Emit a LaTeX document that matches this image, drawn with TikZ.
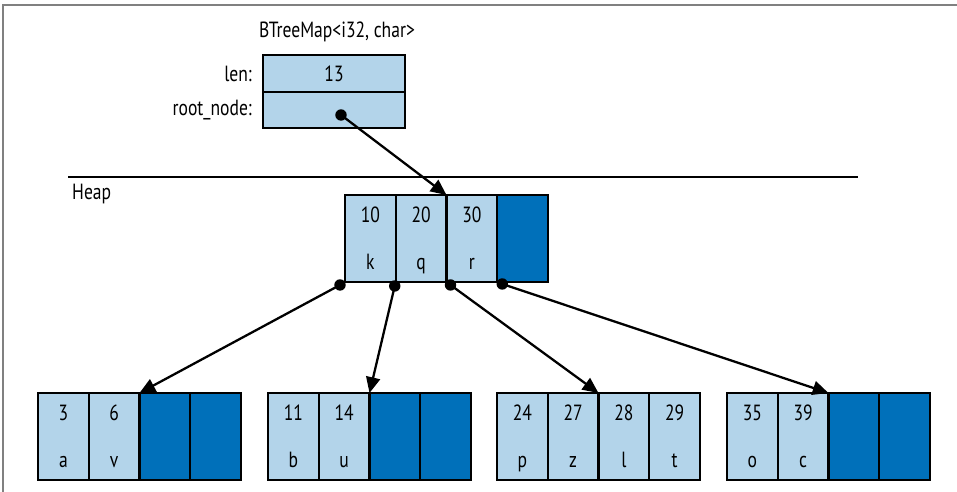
\documentclass[tikz,border=0pt]{standalone}
\usepackage{fontspec}
\setmainfont{PT Sans}[FakeStretch=0.8]
\usetikzlibrary{calc,arrows.meta}
\definecolor{keyblue}{HTML}{B3D4EA}
\definecolor{freeblue}{HTML}{0070BA}
\definecolor{framegray}{HTML}{808080}
\tikzset{
  cell/.style={draw=black, line width=1.2pt, fill=keyblue, minimum width=1.015cm,
    minimum height=1.74cm, inner sep=0pt, outer sep=0pt},
  field/.style={draw=black, line width=1.2pt, fill=keyblue, minimum width=2.84cm,
    minimum height=0.73cm, inner sep=0pt, outer sep=0pt},
  key/.style={anchor=base, inner sep=0pt},
  ptr/.style={line width=1.3pt, -{Triangle[length=9pt,width=8pt]}},
  dot/.style={circle, fill=black, inner sep=0pt, minimum size=6.5pt},
}
\begin{document}
\begin{tikzpicture}[x=0.02cm, y=-0.02cm, font=\fontsize{12.5}{14}\selectfont]
    \useasboundingbox (0,0) rectangle (957,492);
    \draw[framegray, line width=1.1pt] (3,492) -- (3,5) -- (957,5);

    % the map itself
    \node (title) at (337,32) {BTreeMap<i32, char>};
    \node[field] (len) at (334,73.5) {13};
    \node[field] (root) at (334,110) {};
    \node[anchor=east] (lenlab) at ($(len.west)+(-5,0)$) {len:};
    \node[anchor=east] (rootlab) at ($(root.west)+(-5,0)$) {root\_node:};
    \node[dot] (rootptr) at (341,115) {};

    % heap
    \draw[line width=1.2pt] (68,177) -- (858,177);
    \node[anchor=west] (heap) at (66,194) {Heap};

    \foreach \j in {1,...,4}{
      \ifnum\j>3 \def\col{freeblue}\else\def\col{keyblue}\fi
      \node[cell, fill=\col] (r\j) at ({345+50.75*(\j-0.5)},238.5) {};
    }
    \foreach \j/\k/\v in {1/10/k,2/20/q,3/30/r}{
      \node[key] (r\j-k) at ($(r\j.north)+(0,27)$) {\k};
      \node[key] (r\j-v) at ($(r\j.south)+(0,-12)$) {\v};
    }

    % leaves
    \foreach \leaf/\x/\n in {a/38/2,b/268/2,c/497/4,d/727/2}
      \foreach \j in {1,...,4}{
        \ifnum\j>\n \def\col{freeblue}\else\def\col{keyblue}\fi
        \node[cell, fill=\col] (\leaf\j) at ({\x+50.75*(\j-0.5)},436.5) {};
      }
    \foreach \leaf/\j/\k/\v in {a/1/3/a,a/2/6/v,b/1/11/b,b/2/14/u,c/1/24/p,c/2/27/z,
        c/3/28/l,c/4/29/t,d/1/35/o,d/2/39/c}{
      \node[key] (\leaf\j-k) at ($(\leaf\j.north)+(0,27)$) {\k};
      \node[key] (\leaf\j-v) at ($(\leaf\j.south)+(0,-12)$) {\v};
    }

    % child pointers
    \node[dot] (p0) at ($(r1.south west)+(-5,3)$) {};
    \node[dot] (p1) at ($(r1.south east)+(-1,4)$) {};
    \node[dot] (p2) at ($(r2.south east)+(4,3)$) {};
    \node[dot] (p3) at ($(r3.south east)+(5,2)$) {};

    \draw[ptr] (rootptr.center) -- (r2.north east);
    \draw[ptr] (p0.center) -- (a2.north east);
    \draw[ptr] (p1.center) -- (b2.north east);
    \draw[ptr] (p2.center) -- (c2.north east);
    \draw[ptr] (p3.center) -- (d2.north east);
\end{tikzpicture}
\end{document}
